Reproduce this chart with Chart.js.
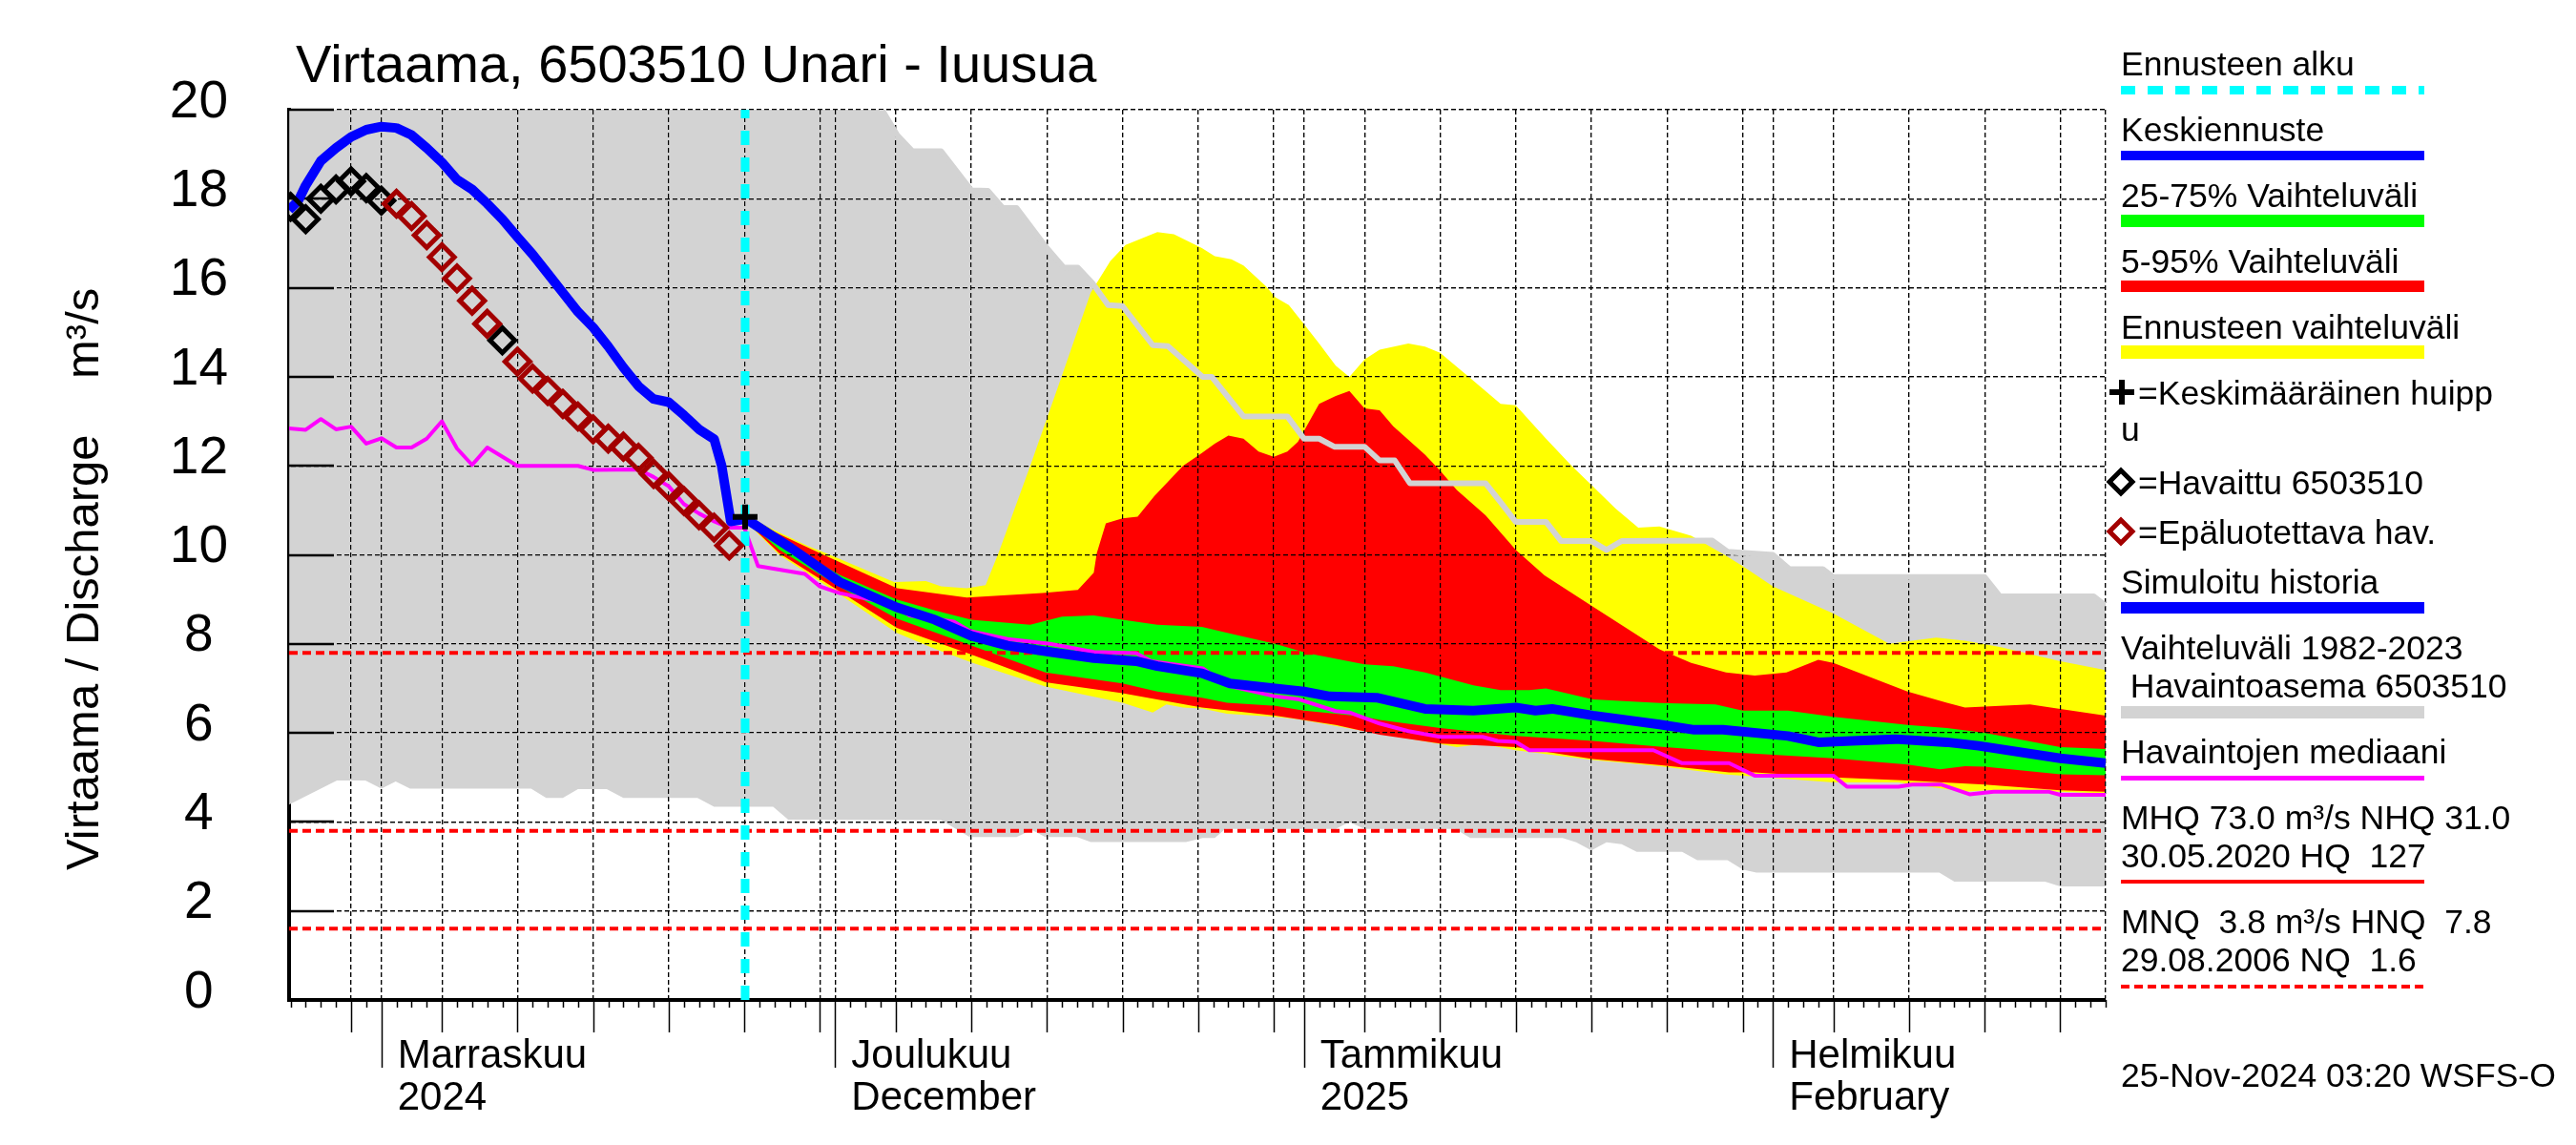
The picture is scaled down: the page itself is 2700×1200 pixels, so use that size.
<!DOCTYPE html>
<html>
<head>
<meta charset="utf-8">
<script src="https://cdn.jsdelivr.net/npm/chart.js@4.4.1/dist/chart.umd.min.js"></script>
<style>
  html, body { margin: 0; padding: 0; background: #fff; }
  #wrap { position: relative; width: 2700px; height: 1200px; overflow: hidden; background: #fff; }
  #chart { position: absolute; left: 0; top: 0; }
  .t { position: absolute; white-space: pre; font-family: "Liberation Sans", Arial, sans-serif; color: #000; line-height: 1; }
</style>
</head>
<body>
<div id="wrap"><canvas id="chart" width="2700" height="1200"></canvas></div>
<script>
// x = days from 1 Nov 2024, y = discharge m³/s
const xMin = -6.1, xMax = 114;
const forecastStart = 24.05;

const monthStartDays = [0, 30, 61, 92];
const monthTop = ['Marraskuu', 'Joulukuu', 'Tammikuu', 'Helmikuu'];
const monthBottom = ['2024', 'December', '2025', 'February'];

// HNQ, MNQ, NQ
const refLevels = [7.8, 3.8, 1.6];

// observed history range 1982-2023
const histMax = [[-6.1,20.5],[32.8,20.5],[33.1,20],[34.1,19.43],[35.1,19.07],[37.0,19.07],[39.0,18.19],[40.1,18.18],[41.1,17.79],[42.0,17.79],[44.0,16.89],[45.1,16.46],[46.05,16.45],[47.0,16.11],[48.05,15.61],[49.0,15.59],[51.0,14.71],[52.0,14.69],[54.3,14.0],[54.9,14.0],[57.0,13.11],[59.9,13.11],[61.0,12.61],[62.0,12.61],[63.0,12.43],[65.0,12.43],[66.0,12.12],[67.0,12.12],[68.0,11.61],[73.0,11.61],[74.0,11.18],[75.0,10.74],[77.0,10.74],[78.0,10.31],[80.0,10.31],[81.0,10.11],[82.0,10.31],[88.0,10.32],[89.0,10.07],[92.0,10.0],[93.1,9.68],[95.3,9.68],[96.0,9.5],[106.0,9.5],[107.0,9.07],[113.2,9.07],[114,8.86]];
const histMin = [[-6.1,4.39],[-2.94,4.93],[-1.05,4.93],[0,4.75],[0.95,4.91],[1.9,4.75],[9.9,4.75],[10.9,4.54],[12.0,4.54],[13.0,4.74],[14.9,4.74],[16.0,4.54],[20.9,4.54],[22.0,4.34],[25.9,4.34],[26.9,4.05],[37.0,4.04],[38.9,3.66],[42.0,3.66],[43.0,3.82],[43.9,3.66],[46.0,3.66],[46.9,3.55],[53.2,3.55],[54.3,3.64],[55.1,3.64],[55.8,3.84],[63.1,3.84],[64.0,4.0],[65.0,3.84],[71.0,3.84],[72.0,3.64],[78.1,3.64],[79.0,3.54],[80.0,3.36],[81.0,3.54],[82.0,3.5],[83.0,3.33],[86.0,3.33],[87.0,3.14],[89.0,3.14],[90.0,2.93],[90.9,2.86],[103.0,2.86],[104.0,2.66],[110.0,2.66],[111.0,2.55],[114,2.55]];

// forecast ensemble
const ensMax = [[24.05,10.9],[26.0,10.55],[28.2,10.2],[29.4,10.04],[33.9,9.39],[36.0,9.41],[37.0,9.29],[38.7,9.25],[39.95,9.32],[40.8,10.04],[42.9,12.0],[45.0,14.03],[46.9,15.89],[48.2,16.6],[49.2,16.96],[51.3,17.25],[52.4,17.2],[54.25,16.89],[55.1,16.71],[56.2,16.64],[57.0,16.5],[58.5,16.03],[59.1,15.79],[60.0,15.61],[61.0,15.18],[62.0,14.75],[63.1,14.25],[64.0,14.0],[65.0,14.39],[66.0,14.61],[67.9,14.75],[69.0,14.68],[70.0,14.54],[71.9,14.0],[74.0,13.39],[75.0,13.36],[77.0,12.61],[78.7,12.0],[80.1,11.54],[81.6,11.04],[83.1,10.61],[84.5,10.64],[86.6,10.43],[88.8,10.0],[90.0,9.75],[92.0,9.29],[96.0,8.68],[99.7,8.0],[101.2,8.07],[102.8,8.14],[104.7,8.07],[107.0,7.93],[111.0,7.61],[114,7.41]];
const p95 = [[24.05,10.88],[26.1,10.5],[29.0,10.04],[34.1,9.25],[38.7,9.04],[43.7,9.14],[46.05,9.21],[47.1,9.6],[47.3,10.04],[47.9,10.71],[49.0,10.82],[50.0,10.86],[51.1,11.32],[53.0,12.0],[54.25,12.29],[55.1,12.5],[56.0,12.68],[57.0,12.61],[58.0,12.32],[59.0,12.2],[59.9,12.32],[60.6,12.54],[62.0,13.39],[63.1,13.57],[64.0,13.68],[65.0,13.29],[66.0,13.25],[66.9,12.89],[69.0,12.25],[70.0,11.89],[71.1,11.46],[73.0,10.89],[75.0,10.11],[76.9,9.54],[80.0,8.86],[84.5,7.88],[86.6,7.57],[88.9,7.36],[90.8,7.29],[92.9,7.36],[95.0,7.64],[96.0,7.57],[100.9,6.93],[103.5,6.68],[104.7,6.57],[107.0,6.61],[109.0,6.64],[111.0,6.54],[114,6.39]];
const p75 = [[24.05,10.85],[26.3,10.35],[30.3,9.55],[34.07,9.0],[36.6,8.75],[39.0,8.54],[42.9,8.43],[45.0,8.61],[47.1,8.64],[49.0,8.54],[51.3,8.43],[54.25,8.38],[56.4,8.21],[59.1,8.0],[61.2,7.79],[65.0,7.54],[66.9,7.5],[69.0,7.36],[72.2,7.07],[74.0,6.96],[75.9,6.96],[77.0,7.0],[80.1,6.75],[84.5,6.67],[88.2,6.64],[90.0,6.5],[93.0,6.5],[96.0,6.36],[100.9,6.18],[103.5,6.11],[106.0,6.0],[111.0,5.68],[114,5.64]];
const fcMedian = [[24.05,10.82],[27.1,10.15],[30.3,9.39],[34.07,8.82],[36.6,8.54],[39.0,8.18],[41.4,7.96],[44.2,7.82],[47.1,7.68],[49.9,7.61],[51.3,7.5],[54.25,7.34],[56.1,7.11],[59.1,7.0],[61.0,6.93],[62.7,6.82],[65.8,6.79],[69.0,6.54],[72.2,6.5],[75.0,6.57],[76.3,6.5],[77.4,6.54],[80.1,6.39],[84.5,6.19],[86.8,6.07],[88.7,6.07],[93.0,5.93],[95.0,5.79],[97.2,5.82],[100.1,5.86],[103.5,5.79],[105.6,5.71],[111.0,5.43],[114,5.32]];
const p25 = [[24.05,10.8],[26.3,10.12],[30.3,9.28],[34.07,8.57],[38.7,8.0],[43.9,7.36],[49.0,7.11],[51.3,6.93],[54.25,6.79],[55.9,6.68],[59.1,6.61],[61.0,6.5],[63.1,6.43],[65.0,6.36],[66.0,6.29],[70.0,6.11],[75.0,5.93],[80.1,5.82],[84.5,5.69],[89.1,5.57],[96.0,5.43],[100.9,5.29],[103.05,5.18],[104.7,5.25],[106.0,5.24],[111.0,5.07],[114,5.05]];
const p05 = [[24.05,10.78],[26.3,10.04],[30.3,9.18],[34.07,8.36],[39.1,7.75],[43.9,7.14],[49.0,6.89],[54.25,6.57],[59.1,6.39],[63.1,6.18],[66.0,5.96],[70.0,5.76],[75.0,5.68],[80.1,5.41],[84.5,5.28],[89.1,5.11],[90.8,5.11],[96.0,5.0],[100.9,4.93],[106.0,4.84],[111.0,4.71],[114,4.68]];
const ensMin = [[24.05,10.76],[26.3,10.0],[30.3,9.11],[34.07,8.25],[36.6,7.89],[39.1,7.57],[43.9,7.04],[49.0,6.68],[51.0,6.46],[51.9,6.64],[53.0,6.57],[54.25,6.55],[55.9,6.43],[59.1,6.36],[60.6,6.31],[65.0,6.04],[70.0,5.75],[71.1,5.68],[72.8,5.75],[75.0,5.61],[80.1,5.39],[84.5,5.25],[88.8,5.07],[96.0,4.89],[100.3,4.89],[104.7,4.68],[106.0,4.71],[111.0,4.68],[114,4.64]];

// history
const simHistory = [[-6.1,17.75],[-5.5,17.95],[-5,18.3],[-4,18.85],[-3,19.14],[-2,19.39],[-1,19.55],[0,19.62],[1,19.59],[2,19.43],[3,19.14],[4,18.82],[5,18.43],[6,18.21],[7,17.89],[8,17.54],[9,17.14],[10,16.75],[11,16.32],[12,15.89],[13,15.46],[14,15.11],[15,14.68],[16,14.21],[17,13.79],[18,13.5],[19,13.43],[20,13.14],[21,12.82],[22,12.6],[22.5,12.0],[23.1,10.75],[24.05,10.8]];
const obsMedian = [[-6.1,12.84],[-5,12.81],[-4,13.05],[-3,12.82],[-2,12.88],[-1,12.5],[0,12.62],[1,12.41],[2,12.41],[3,12.61],[4,13.0],[5,12.39],[6,12.02],[7,12.41],[9,12.0],[13,12.0],[14,11.91],[17,11.92],[18,11.75],[19,11.54],[20,11.14],[21,10.93],[22,10.75],[23,10.61],[24,10.61],[24.9,9.75],[28,9.57],[29,9.29],[30.3,9.14],[33.85,8.89],[34.9,8.64],[37.85,8.5],[38.9,8.29],[41.4,8.11],[44.2,8.0],[47.1,7.82],[49.9,7.79],[50.9,7.61],[54.3,7.45],[55.9,7.07],[59.1,6.82],[60.6,6.76],[63.1,6.49],[64,6.46],[66,6.21],[67.9,6.04],[70,5.91],[72.8,5.91],[73.8,5.82],[75,5.8],[75.9,5.61],[84.1,5.61],[86,5.32],[89.1,5.32],[90.8,5.04],[96,5.04],[96.9,4.79],[100.3,4.79],[101.2,4.84],[103.1,4.84],[105,4.62],[106.6,4.68],[110.2,4.68],[111,4.61],[114,4.61]];
const obsReliable = [[-6,17.82],[-5,17.54],[-4,18.0],[-3,18.21],[-2,18.39],[-1,18.24],[0,17.96],[8,14.82]];
const obsUnreliable = [[1,17.89],[2,17.61],[3,17.18],[4,16.69],[5,16.21],[6,15.71],[7,15.19],[9,14.34],[10,13.96],[11,13.68],[12,13.39],[13,13.11],[14,12.82],[15,12.61],[16,12.43],[17,12.18],[18,11.82],[19,11.54],[20,11.21],[21,10.89],[22,10.61],[23,10.21]];
const meanPeak = [[24.05,10.85]];

// ---------------------------------------------------------------
const FONT = "'Liberation Sans', Arial, Helvetica, sans-serif";
Chart.defaults.font.family = FONT;
Chart.defaults.color = '#000';

const pts = a => a.map(([x, y]) => ({ x, y }));
const dayDate = d => new Date(2024, 10, 1 + d);
const monthIdx = d => monthStartDays.indexOf(d);
function isGridDay(v) {
  if (v === xMin || v === xMax) return true;
  const dom = dayDate(v).getDate();
  return dom === 1 || dom % 5 === 0;
}

const xTicks = [xMin];
for (let d = Math.ceil(xMin); d < xMax; d++) xTicks.push(d);
xTicks.push(xMax);

const fillSet = (data, target, color, order) => ({
  data: pts(data), fill: target, backgroundColor: color,
  borderColor: 'rgba(0,0,0,0)', borderWidth: 0, pointRadius: 0, order
});
const edgeSet = (data, order, extra) => Object.assign({
  data: pts(data), fill: false, borderColor: 'rgba(0,0,0,0)', borderWidth: 0, pointRadius: 0, order
}, extra);
const lineSet = (data, color, width, order, extra) => Object.assign({
  data: pts(data), fill: false, borderColor: color, borderWidth: width, pointRadius: 0,
  borderJoinStyle: 'round', order
}, extra);
const markSet = (data, style, color, radius, width, order) => ({
  data: pts(data), showLine: false, pointStyle: style, pointRadius: radius,
  pointBorderWidth: width, pointBorderColor: color, pointBackgroundColor: 'rgba(0,0,0,0)', order
});

const datasets = [
  fillSet(histMin, 1, '#d3d3d3', 100),              // 0
  lineSet(histMax, '#d3d3d3', 6, 50, { clip: 0 }),  // 1
  fillSet(ensMin, 3, '#ffff00', 90),                // 2
  edgeSet(ensMax, 89),                              // 3
  fillSet(p05, 5, '#ff0000', 80),                   // 4
  edgeSet(p95, 79),                                 // 5
  fillSet(p25, 7, '#00ff00', 70),                   // 6
  edgeSet(p75, 69, { gridAfter: true }),            // 7
  ...refLevels.map(v => lineSet([[xMin, v], [xMax, v]], '#ff0000', 4, 60, { borderDash: [9, 5] })),
  lineSet(obsMedian, '#ff00ff', 4, 40),
  lineSet(fcMedian, '#0000ff', 10, 30),
  lineSet(simHistory, '#0000ff', 10, 20),
  lineSet([[forecastStart, 0], [forecastStart, 20]], '#00ffff', 9, 15, { borderDash: [15, 13], clip: 0 }),
  markSet(obsReliable, 'rectRot', '#000000', 13, 5, 10),
  markSet(obsUnreliable, 'rectRot', '#a30000', 13, 5, 9),
  markSet(meanPeak, 'cross', '#000000', 13, 6, 5)
];

// grid and inner y ticks drawn again on top of the filled bands
const gridOverFills = {
  id: 'gridOverFills',
  afterDatasetDraw(chart, args) {
    if (!chart.data.datasets[args.index].gridAfter) return;
    const { ctx, chartArea, scales: { x, y } } = chart;
    x.drawGrid(chartArea);
    y.drawGrid(chartArea);
    ctx.save();
    ctx.strokeStyle = '#000';
    ctx.lineWidth = 2.5;
    y.ticks.forEach(t => {
      const py = Math.round(y.getPixelForValue(t.value));
      ctx.beginPath();
      ctx.moveTo(chartArea.left, py);
      ctx.lineTo(chartArea.left + 47, py);
      ctx.stroke();
    });
    ctx.restore();
  }
};

// day / 5-day / month tick marks under the axis
const xTickMarks = {
  id: 'xTickMarks',
  afterDraw(chart) {
    const { ctx, chartArea, scales: { x } } = chart;
    ctx.save();
    ctx.strokeStyle = '#000';
    ctx.lineWidth = 1.5;
    for (let d = Math.ceil(xMin); d <= xMax; d++) {
      const dom = dayDate(d).getDate();
      const len = dom === 1 ? 71 : (dom % 5 === 0 ? 34 : 8);
      const px = Math.round(x.getPixelForValue(d)) + 0.5;
      ctx.beginPath();
      ctx.moveTo(px, chartArea.bottom);
      ctx.lineTo(px, chartArea.bottom + len);
      ctx.stroke();
    }
    ctx.restore();
  }
};

new Chart(document.getElementById('chart'), {
  type: 'line',
  data: { datasets },
  plugins: [gridOverFills, xTickMarks],
  options: {
    responsive: false,
    animation: false,
    devicePixelRatio: 1,
    events: [],
    layout: { padding: { left: 0, top: 115, right: 493, bottom: 0 } },
    plugins: { legend: { display: false }, tooltip: { enabled: false }, title: { display: false } },
    scales: {
      x: {
        type: 'linear',
        min: xMin,
        max: xMax,
        afterFit: s => { s.height = 152; },
        afterBuildTicks: axis => { axis.ticks = xTicks.map(v => ({ value: v })); },
        grid: {
          drawTicks: false,
          lineWidth: 1.2,
          color: c => (c.tick && isGridDay(c.tick.value)) ? '#000' : 'rgba(0,0,0,0)'
        },
        border: {
          display: true, width: 4, color: '#000',
          dash: c => (c.tick && c.tick.value === xMin) ? [] : [5, 3]
        },
        ticks: {
          autoSkip: false, maxRotation: 0, minRotation: 0,
          align: 'start', labelOffset: 17, padding: 37,
          font: { size: 42, lineHeight: 1.05 },
          color: '#000',
          callback: v => {
            const i = monthIdx(v);
            return i >= 0 ? [monthTop[i], monthBottom[i]] : '';
          }
        }
      },
      y: {
        min: 0,
        max: 20,
        afterFit: s => { s.width = 303; },
        grid: { drawTicks: false, lineWidth: 1.2, color: '#000' },
        border: { display: true, width: 4, color: '#000', dash: [5, 3] },
        ticks: {
          stepSize: 2, padding: 64, crossAlign: 'center', labelOffset: -7.5,
          font: { size: 55 }, color: '#000'
        }
      }
    }
  }
});

// ---------------- texts outside the plot ----------------
const wrap = document.getElementById('wrap');
function addText(str, x, baseline, size, color) {
  const el = document.createElement('div');
  el.className = 't';
  el.textContent = str;
  el.style.fontSize = size + 'px';
  el.style.left = x + 'px';
  el.style.top = (baseline - 0.8465 * size) + 'px';
  if (color) el.style.color = color;
  wrap.appendChild(el);
  return el;
}
function addRotated(str, baselineX, startY, size) {
  const el = addText(str, 0, 0, size);
  el.style.transformOrigin = '0 0';
  el.style.transform = 'rotate(-90deg)';
  el.style.left = (baselineX - 0.8465 * size) + 'px';
  el.style.top = startY + 'px';
  return el;
}
function addBox(x, y, w, h, css) {
  const el = document.createElement('div');
  el.style.cssText = `position:absolute;left:${x}px;top:${y}px;width:${w}px;height:${h}px;` + css;
  wrap.appendChild(el);
  return el;
}
function addBar(yc, h, css) { return addBox(2223, yc - h / 2, 318, h, 'background:' + css); }
function addDiamond(cx, cy, color) {
  const s = 22;
  addBox(cx - s / 2, cy - s / 2, s, s, `box-sizing:border-box;border:5px solid ${color};transform:rotate(45deg);`);
}

addText('Virtaama, 6503510 Unari - Iuusua', 310, 86, 56);

addRotated('Virtaama / Discharge', 103, 912, 49);
const unit = addRotated('m³/s', 103, 0, 49);
unit.style.top = (302 + unit.offsetWidth) + 'px';

const LF = 35.5;
const LX = 2223;
addText('Ennusteen alku', LX, 80, LF);
addBar(94.5, 9, 'repeating-linear-gradient(to right, #00ffff 0 15.5px, transparent 15.5px 28.4px)');
addText('Keskiennuste', LX, 149, LF);
addBar(163, 10, '#0000ff');
addText('25-75% Vaihteluväli', LX, 218, LF);
addBar(231.5, 13, '#00ff00');
addText('5-95% Vaihteluväli', LX, 287, LF);
addBar(300, 12, '#ff0000');
addText('Ennusteen vaihteluväli', LX, 356, LF);
addBar(369, 14, '#ffff00');

addBox(2211, 408, 26, 6, 'background:#000');
addBox(2221, 398, 6, 26, 'background:#000');
addText('=Keskimääräinen huipp', 2241, 425, LF);
addText('u', LX, 463, LF);
addDiamond(2223, 505, '#000000');
addText('=Havaittu 6503510', 2241, 519, LF);
addDiamond(2223, 557, '#a30000');
addText('=Epäluotettava hav.', 2241, 571, LF);

addText('Simuloitu historia', LX, 623, LF);
addBar(637, 12, '#0000ff');
addText('Vaihteluväli 1982-2023', LX, 692, LF);
addText(' Havaintoasema 6503510', LX, 732, LF);
addBar(746.5, 13, '#d3d3d3');
addText('Havaintojen mediaani', LX, 801, LF);
addBar(815.5, 5, '#ff00ff');
addText('MHQ 73.0 m³/s NHQ 31.0', LX, 870, LF);
addText('30.05.2020 HQ  127', LX, 910, LF);
addBar(924, 4, '#ff0000');
addText('MNQ  3.8 m³/s HNQ  7.8', LX, 979, LF);
addText('29.08.2006 NQ  1.6', LX, 1019, LF);
addBar(1033.5, 4, 'repeating-linear-gradient(to right, #ff0000 0 9px, transparent 9px 14px)');

addText('25-Nov-2024 03:20 WSFS-O', LX, 1140, LF);
</script>
</body>
</html>
